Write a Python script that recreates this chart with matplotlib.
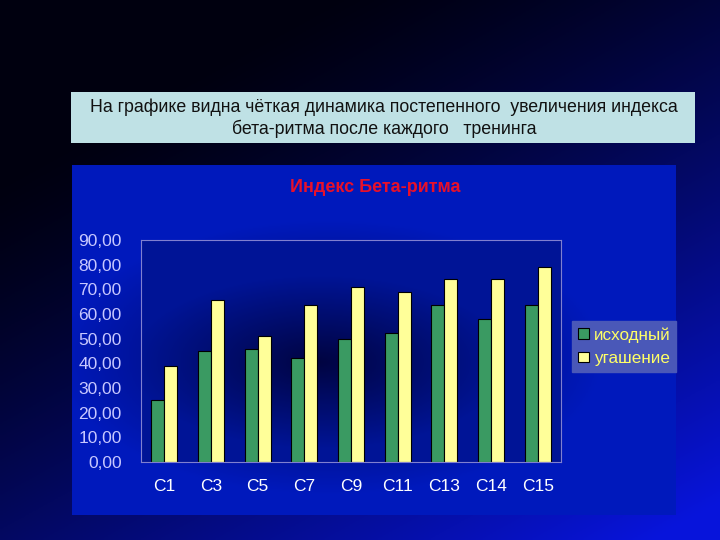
import numpy as np
import matplotlib
matplotlib.use('Agg')
import matplotlib.pyplot as plt
from matplotlib.patches import Rectangle

# data
cats = ['C1', 'C3', 'C5', 'C7', 'C9', 'C11', 'C13', 'C14', 'C15']
ishodny = [25.0, 44.8, 45.7, 42.2, 49.9, 52.1, 63.7, 58.1, 63.7]
ugashenie = [38.8, 65.6, 51.0, 63.7, 71.0, 68.9, 74.0, 74.0, 79.2]
series_names = ['исходный', 'угашение']
title = 'Индекс Бета-ритма'
note = 'На графике видна чёткая динамика постепенного  увеличения индекса\nбета-ритма после каждого   тренинга'

plt.rcParams['font.family'] = ['Liberation Sans', 'DejaVu Sans']

W, H = 720, 540
fig = plt.figure(figsize=(7.2, 5.4), dpi=100)

def fx(px):
    return px / W

def fy(py):
    return 1 - py / H

# slide background: black top-left -> blue bottom-right
bg = fig.add_axes([0, 0, 1, 1])
yy, xx = np.mgrid[0:1:200j, 0:1:200j]
t = np.clip(0.55 * xx + 0.75 * yy - 0.25, 0, 1) ** 1.3
img = np.zeros((200, 200, 3))
img[..., 0] = 0.03 * t
img[..., 1] = 0.08 * t
img[..., 2] = 0.06 + 0.80 * t
bg.imshow(img, extent=[0, 1, 0, 1], origin='upper', aspect='auto')
bg.set_axis_off()

# text box
fig.patches.append(Rectangle((fx(71), fy(143)), fx(695) - fx(71), fy(92) - fy(143),
                             transform=fig.transFigure, facecolor='#bfe1e5', edgecolor='none', zorder=2))
fig.text(fx(384), fy(118), note, ha='center', va='center', fontsize=12.8, color='#111111',
         linespacing=1.25, zorder=3)

# chart panel with darker centre
pan = fig.add_axes([fx(72), fy(515), fx(676) - fx(72), fy(165) - fy(515)])
py_, px_ = np.mgrid[-1:1:200j, -1:1:200j]
r = np.clip(np.sqrt((px_ + 0.15) ** 2 * 1.2 + (py_ - 0.1) ** 2 * 1.6), 0, 1)
pimg = np.zeros((200, 200, 3))
pimg[..., 1] = 0.02 + 0.08 * r
pimg[..., 2] = 0.32 + 0.42 * r
pan.imshow(pimg, extent=[0, 1, 0, 1], aspect='auto')
pan.set_axis_off()

fig.text(fx(375), fy(188), title, ha='center', va='center', fontsize=13,
         fontweight='bold', color='#e8102a')

# plot area
ax = fig.add_axes([fx(141), fy(462), fx(561) - fx(141), fy(240) - fy(462)])
ax.set_facecolor('none')
ax.imshow(pimg * 0.8, extent=[-0.5, len(cats) - 0.5, 0, 90], aspect='auto', zorder=0)
x = np.arange(len(cats))
w = 0.28
ax.bar(x - w / 2, ishodny, w, color='#3a9a62', edgecolor='#000000', linewidth=0.8,
       label=series_names[0], zorder=2)
ax.bar(x + w / 2, ugashenie, w, color='#ffff99', edgecolor='#000000', linewidth=0.8,
       label=series_names[1], zorder=2)
ax.set_xlim(-0.5, len(cats) - 0.5)
ax.set_ylim(0, 90)
ax.set_yticks(np.arange(0, 91, 10))
ax.set_yticklabels(['%d,00' % v for v in range(0, 91, 10)])
ax.set_xticks(x)
ax.set_xticklabels(cats)
ax.tick_params(axis='y', colors='#c8c8ff', labelsize=12.5, length=0, pad=14)
ax.tick_params(axis='x', colors='white', labelsize=12.5, length=0, pad=12)
for s in ax.spines.values():
    s.set_color('#8080d0')
    s.set_linewidth(0.8)

leg = ax.legend(loc='center left', bbox_to_anchor=(1.027, 0.52), frameon=True, fontsize=12.3,
                handlelength=0.6, handleheight=0.6, handletextpad=0.3, borderpad=0.35,
                labelspacing=0.5, borderaxespad=0, fancybox=False)
leg.get_frame().set_facecolor('#4a58b8')
leg.get_frame().set_edgecolor('#4a58b8')
leg.get_frame().set_alpha(1)
for txt in leg.get_texts():
    txt.set_color('#ffff66')

fig.savefig('out.png', dpi=100)
